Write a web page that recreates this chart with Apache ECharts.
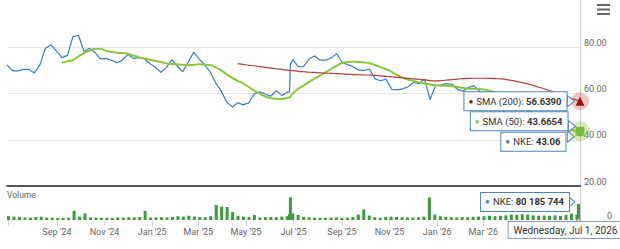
<!DOCTYPE html>
<html>
<head>
<meta charset="utf-8">
<script src="https://cdn.jsdelivr.net/npm/echarts@6/dist/echarts.min.js"></script>
<style>
  html, body { margin: 0; padding: 0; background: #fff; }
  #chart { width: 620px; height: 249px; }
</style>
</head>
<body>
<div id="chart"></div>
<script>
// weekly closes (Mondays) plus the earnings days around the June 2025 jump and the last day
const dates = [
  '2024-07-01','2024-07-08','2024-07-15','2024-07-22','2024-07-29','2024-08-05','2024-08-12','2024-08-19','2024-08-26',
  '2024-09-02','2024-09-09','2024-09-16','2024-09-23','2024-09-30','2024-10-07','2024-10-14','2024-10-21','2024-10-28',
  '2024-11-04','2024-11-11','2024-11-18','2024-11-25','2024-12-02','2024-12-09','2024-12-16','2024-12-23','2024-12-30',
  '2025-01-06','2025-01-13','2025-01-20','2025-01-27','2025-02-03','2025-02-10','2025-02-17','2025-02-24',
  '2025-03-03','2025-03-10','2025-03-17','2025-03-24','2025-03-31','2025-04-07','2025-04-14','2025-04-21','2025-04-28',
  '2025-05-05','2025-05-12','2025-05-19','2025-05-26','2025-06-02','2025-06-09','2025-06-16','2025-06-23',
  '2025-06-26','2025-06-27',
  '2025-06-30','2025-07-07','2025-07-14','2025-07-21','2025-07-28','2025-08-04','2025-08-11','2025-08-18','2025-08-25',
  '2025-09-01','2025-09-08','2025-09-15','2025-09-22','2025-09-29','2025-10-06','2025-10-13','2025-10-20','2025-10-27',
  '2025-11-03','2025-11-10','2025-11-17','2025-11-24','2025-12-01','2025-12-08','2025-12-15','2025-12-22','2025-12-29',
  '2026-01-05','2026-01-12','2026-01-19','2026-01-26','2026-02-02','2026-02-09','2026-02-16','2026-02-23',
  '2026-03-02','2026-03-09','2026-03-16','2026-03-23','2026-03-30','2026-04-06','2026-04-13','2026-04-20','2026-04-27',
  '2026-05-04','2026-05-11','2026-05-18','2026-05-25','2026-06-01','2026-06-08','2026-06-15','2026-06-22','2026-06-29',
  '2026-07-01'
];

const price = [
  72.4, 69.8, 69.8, 70.4, 70.4, 68.9, 72.5, 79.6, 81.0, 78.4,
  75.5, 76.5, 84.6, 85.2, 78.3, 79.6, 77.8, 75.0, 75.2, 74.4,
  73.3, 74.5, 76.9, 75.2, 75.5, 75.0, 73.0, 71.4, 69.2, 71.2,
  74.6, 71.8, 69.4, 73.7, 77.9, 74.8, 72.4, 69.2, 64.5, 61.0,
  56.2, 54.2, 56.0, 55.1, 56.0, 59.9, 60.7, 59.8, 58.8, 61.2,
  59.2, 60.5,
  60.8, 72.5,
  74.6, 71.6, 71.7, 75.0, 76.2, 74.4, 74.4, 75.4,
  77.2, 73.5, 72.5, 71.6, 70.1, 70.0, 70.5, 66.3, 65.5, 66.2,
  61.8, 61.6, 62.0, 62.9, 64.8, 64.2, 66.2, 57.4, 63.5, 63.6,
  64.3, 64.0, 61.7, 61.0, 62.7, 63.3, 61.0, 58.5, 56.5, 55.5,
  53.0, 51.0, 49.5, 48.5, 47.0, 46.5, 47.0, 45.5, 44.5, 45.5,
  44.2, 44.8, 43.8, 44.2, 43.5,
  43.06
];

const sma50 = [
  null, null, null, null, null, null, null, null, null, null,
  73.4, 73.9, 74.5, 76.0, 77.5, 78.6, 79.2, 79.3, 78.5, 78.0,
  77.6, 77.5, 77.2, 76.4, 75.7, 75.1, 74.6, 74.1, 73.6, 73.0,
  72.8, 72.6, 72.4, 72.3, 72.4, 72.6, 72.5, 72.3, 71.3, 70.0,
  68.3, 66.8, 65.5, 64.4, 62.8, 61.3, 59.9, 58.7, 58.0, 57.7,
  57.6, 58.2,
  58.4, 58.7,
  60.0, 62.0, 63.5, 65.0, 66.5, 67.8, 69.2, 70.6,
  72.0, 73.2, 73.6, 73.7, 73.6, 73.4, 73.1, 72.3, 71.4, 70.5,
  69.4, 68.0, 66.8, 66.0, 65.4, 64.8, 64.3, 63.9, 63.6, 63.4,
  63.3, 63.1, 62.8, 62.4, 62.1, 62.0, 61.9, 61.6, 61.1, 60.5,
  59.8, 58.5, 57.0, 55.5, 54.0, 52.3, 50.8, 49.3, 48.0, 46.8,
  45.8, 45.0, 44.4, 44.0, 43.75,
  43.6654
];

const sma200 = [
  null, null, null, null, null, null, null, null, null, null,
  null, null, null, null, null, null, null, null, null, null,
  null, null, null, null, null, null, null, null, null, null,
  null, null, null, null, null, null, null, null, null, null,
  null, null, 72.9, 72.6, 72.2, 72.0, 71.6, 71.3, 71.0, 70.7,
  70.4, 70.1,
  70.0, 70.0,
  69.9, 69.6, 69.4, 69.2, 69.1, 68.9, 68.8, 68.7,
  68.6, 68.5, 68.3, 68.2, 68.1, 68.0, 68.0, 67.8, 67.6, 67.4,
  67.2, 67.0, 66.8, 66.5, 66.3, 66.1, 65.9, 65.6, 65.5, 65.6,
  65.8, 66.0, 66.2, 66.4, 66.5, 66.6, 66.6, 66.6, 66.5, 66.4,
  66.3, 66.0, 65.6, 65.1, 64.6, 64.0, 63.3, 62.6, 61.8, 61.0,
  60.2, 59.4, 58.6, 57.7, 56.9,
  56.639
];

// volume in millions of shares
const volume = [
  19, 17, 16, 13, 12, 15, 17, 12, 12, 10,
  11, 12, 46, 17, 33, 13, 12, 11, 12, 11,
  13, 12, 14, 13, 15, 46, 12, 13, 14, 13,
  15, 19, 17, 21, 17, 15, 14, 19, 75, 67,
  65, 40, 21, 17, 15, 25, 13, 14, 15, 14,
  17, 19,
  30, 113,
  33, 25, 15, 13, 12, 11, 11, 12,
  13, 11, 12, 15, 27, 53, 22, 14, 12, 15,
  17, 15, 14, 13, 12, 14, 17, 113, 27, 19,
  15, 14, 13, 15, 14, 16, 17, 19, 21, 19,
  21, 23, 27, 25, 29, 27, 23, 21, 22, 21,
  23, 21, 25, 32, 27,
  80.185744
];

const MONTHS = ['Jan','Feb','Mar','Apr','May','Jun','Jul','Aug','Sep','Oct','Nov','Dec'];
const WEEKDAYS = ['Sunday','Monday','Tuesday','Wednesday','Thursday','Friday','Saturday'];
// month labels under the crosshair date box are covered in the original
const LABEL_FROM = '2024-08-01';
const LABEL_TO = '2026-04-01';

const LAST = dates.length - 1;
const lastDate = dates[LAST];
const BORDER = '#4f86bb';
const FONT = 'Roboto';

function pairs(values) {
  return dates.map((d, i) => [d, values[i]]);
}

function spaced(n) {
  return String(Math.round(n)).replace(/\B(?=(\d{3})+(?!\d))/g, ' ');
}

function parseDay(s) {
  const p = s.split('-').map(Number);
  return new Date(p[0], p[1] - 1, p[2]);
}

function longDate(s) {
  const d = parseDay(s);
  return WEEKDAYS[d.getDay()] + ', ' + MONTHS[d.getMonth()] + ' ' + d.getDate() + ', ' + d.getFullYear();
}

function tipItem(y, dist, dy, dotColor, name, value) {
  return {
    coord: [lastDate, y],
    symbol: 'circle',
    symbolSize: 1,
    itemStyle: { color: 'rgba(0,0,0,0)' },
    label: {
      show: true,
      position: 'left',
      distance: dist,
      offset: [0, dy],
      backgroundColor: '#fff',
      borderColor: BORDER,
      borderWidth: 1,
      padding: [3, 5, 3, 4],
      formatter: '{d|●} {t|' + name + ': }{b|' + value + '}',
      rich: {
        d: { color: dotColor, fontSize: 8, fontFamily: FONT },
        t: { color: '#333', fontSize: 9.5, fontFamily: FONT },
        b: { color: '#333', fontSize: 9.5, fontFamily: FONT, fontWeight: 'bold' }
      }
    }
  };
}

function arrowItem(y, dx, dy, rot) {
  return {
    coord: [lastDate, y],
    symbol: 'triangle',
    symbolSize: [11, 7],
    symbolRotate: rot,
    symbolOffset: [dx, dy],
    itemStyle: { color: '#fff', borderColor: BORDER, borderWidth: 1 },
    label: { show: false }
  };
}

function dotItem(y, symbol, size, color) {
  return {
    coord: [lastDate, y],
    symbol: symbol,
    symbolSize: size,
    itemStyle: { color: color },
    label: { show: false }
  };
}

const labelFrom = parseDay(LABEL_FROM).getTime();
const labelTo = parseDay(LABEL_TO).getTime();

const chart = echarts.init(document.getElementById('chart'), null, { renderer: 'svg' });

chart.setOption({
  animation: false,
  textStyle: { fontFamily: FONT },
  grid: [
    { left: 7, right: 40, top: 1, height: 185 },
    { left: 7, right: 40, top: 190, height: 30 }
  ],
  xAxis: [
    {
      type: 'time',
      gridIndex: 0,
      min: dates[0],
      max: lastDate,
      axisLabel: { show: false },
      axisTick: { show: false },
      splitLine: { show: false },
      axisLine: { lineStyle: { color: '#555', width: 2 } }
    },
    {
      type: 'time',
      gridIndex: 1,
      min: dates[0],
      max: lastDate,
      splitNumber: 10,
      axisLine: { show: false },
      axisTick: { show: true, length: 6, lineStyle: { color: '#ccd6eb' } },
      splitLine: { show: false },
      axisLabel: {
        color: '#666',
        fontSize: 9,
        margin: 7,
        formatter: (v) => {
          if (v < labelFrom || v > labelTo) {
            return '';
          }
          const d = new Date(v);
          return MONTHS[d.getMonth()] + " '" + String(d.getFullYear()).slice(2);
        }
      }
    }
  ],
  yAxis: [
    {
      type: 'value',
      gridIndex: 0,
      position: 'right',
      min: 20,
      max: 100,
      interval: 20,
      axisLine: { show: true, lineStyle: { color: '#ccc' } },
      axisTick: { show: false },
      axisLabel: {
        color: '#666', fontSize: 9, margin: 4, align: 'left', verticalAlign: 'bottom',
        showMaxLabel: false, formatter: (v) => (v >= 100 ? '' : v.toFixed(2))
      },
      splitLine: { lineStyle: { color: '#e6e6e6' }, showMaxLine: false }
    },
    {
      type: 'value',
      gridIndex: 1,
      position: 'right',
      min: 0,
      max: 150,
      interval: 150,
      axisLine: { show: true, lineStyle: { color: '#ccc' } },
      axisTick: { show: false },
      axisLabel: {
        color: '#666', fontSize: 9, margin: 27, align: 'left', verticalAlign: 'bottom',
        formatter: (v) => (v === 0 ? '0' : '')
      },
      splitLine: { show: false }
    }
  ],
  graphic: [
    {
      type: 'group',
      right: 10,
      top: 4,
      children: [
        { type: 'rect', shape: { x: 0, y: 0, width: 13, height: 2 }, style: { fill: '#666' } },
        { type: 'rect', shape: { x: 0, y: 4.5, width: 13, height: 2 }, style: { fill: '#666' } },
        { type: 'rect', shape: { x: 0, y: 9, width: 13, height: 2 }, style: { fill: '#666' } }
      ]
    },
    {
      type: 'text',
      left: 7,
      top: 190,
      style: { text: 'Volume', fill: '#666', font: '8.5px Roboto' }
    }
  ],
  series: [
    {
      name: 'NKE',
      type: 'line',
      xAxisIndex: 0,
      yAxisIndex: 0,
      data: pairs(price),
      showSymbol: false,
      lineStyle: { color: '#3b7dbd', width: 1.2 },
      itemStyle: { color: '#3b7dbd' },
      markPoint: {
        silent: true,
        data: [
          dotItem(price[LAST], 'circle', 7, '#3b7dbd'),
          arrowItem(price[LAST], -9, 4, -90),
          tipItem(price[LAST], 14, 9, '#3b7dbd', 'NKE', price[LAST].toFixed(2))
        ]
      }
    },
    {
      name: 'SMA (50)',
      type: 'line',
      xAxisIndex: 0,
      yAxisIndex: 0,
      data: pairs(sma50),
      showSymbol: false,
      smooth: 0.3,
      lineStyle: { color: '#8dc43f', width: 2 },
      itemStyle: { color: '#8dc43f' },
      markPoint: {
        silent: true,
        data: [
          dotItem(sma50[LAST], 'circle', 20, 'rgba(141,196,63,0.35)'),
          dotItem(sma50[LAST], 'rect', 9, '#7cb83a'),
          arrowItem(sma50[LAST], -8, -5, -90),
          tipItem(sma50[LAST], 12, -10, '#8dc43f', 'SMA (50)', sma50[LAST].toFixed(4))
        ]
      }
    },
    {
      name: 'SMA (200)',
      type: 'line',
      xAxisIndex: 0,
      yAxisIndex: 0,
      data: pairs(sma200),
      showSymbol: false,
      smooth: 0.3,
      lineStyle: { color: '#b0403f', width: 1.2 },
      itemStyle: { color: '#b0403f' },
      markPoint: {
        silent: true,
        data: [
          dotItem(sma200[LAST], 'circle', 18, 'rgba(190,60,60,0.28)'),
          dotItem(sma200[LAST], 'triangle', 9, '#9b1111'),
          arrowItem(sma200[LAST], -9, 0, -90),
          tipItem(sma200[LAST], 13, 0, '#9b1111', 'SMA (200)', sma200[LAST].toFixed(4))
        ]
      }
    },
    {
      name: 'Volume',
      type: 'bar',
      xAxisIndex: 1,
      yAxisIndex: 1,
      data: pairs(volume),
      barWidth: 3,
      itemStyle: { color: '#3d9b3d' },
      markPoint: {
        silent: true,
        data: [
          arrowItem(volume[LAST], -7, -2, -90),
          tipItem(volume[LAST], 9, -2, '#3b7dbd', 'NKE', spaced(volume[LAST] * 1e6)),
          {
            coord: [lastDate, 0],
            symbol: 'triangle',
            symbolSize: [9, 5],
            symbolOffset: [0, 1],
            itemStyle: { color: '#fff', borderColor: '#8c9db3', borderWidth: 1 },
            label: { show: false }
          },
          {
            coord: [lastDate, 0],
            symbol: 'circle',
            symbolSize: 1,
            itemStyle: { color: 'rgba(0,0,0,0)' },
            label: {
              show: true,
              position: 'inside',
              offset: [-13, 10],
              backgroundColor: '#fff',
              borderColor: '#8c9db3',
              borderWidth: 1,
              padding: [3, 5, 3, 5],
              color: '#333',
              fontSize: 10,
              fontFamily: FONT,
              formatter: longDate(lastDate)
            }
          }
        ]
      }
    }
  ]
});
</script>
</body>
</html>
